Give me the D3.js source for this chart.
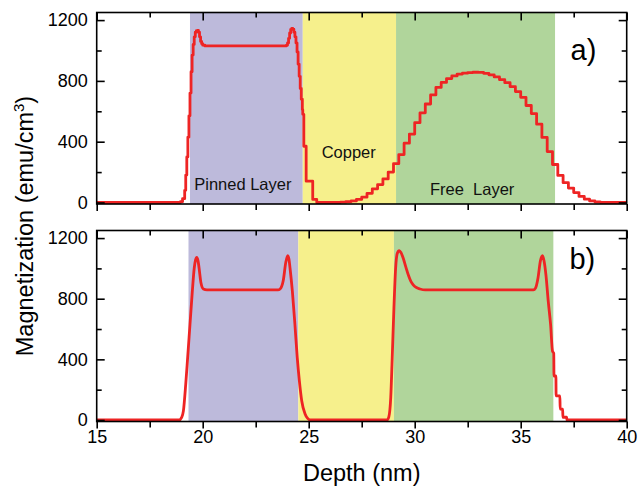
<!DOCTYPE html>
<html><head><meta charset="utf-8">
<script src="https://cdn.jsdelivr.net/npm/d3@7"></script>
<style>
body{margin:0;background:#fff}
text{font-family:"Liberation Sans",Arial,Helvetica,sans-serif}
</style>
</head><body>
<svg id="c" width="639" height="489"></svg>
<script>
// ---- data ----
const depthTicks = [15, 20, 25, 30, 35, 40];
const depthMinor = [17.5, 22.5, 27.5, 32.5, 37.5];
const magTicks = [0, 400, 800, 1200];
const magMinor = [200, 600, 1000];

const layerNames = ["Pinned Layer", "Copper", "Free\u00A0 Layer"];
const layersA = [[19.40, 24.72], [24.72, 29.12], [29.12, 36.62]];
const layersB = [[19.33, 24.51], [24.51, 29.02], [29.02, 36.54]];

// panel a (stepped profile)
const depthA = [15, 18.85, 18.95, 19.05, 19.15, 19.2, 19.25, 19.3, 19.35, 19.4, 19.45, 19.5, 19.55, 19.6, 19.65, 19.7, 19.75, 19.8, 19.85, 19.9, 19.95, 20.0, 20.1,
  23.9, 23.95, 24.0, 24.05, 24.1, 24.15, 24.2, 24.25, 24.3, 24.35, 24.4, 24.45, 24.5, 24.55, 24.6, 24.65, 24.7, 24.72, 24.77, 24.88, 25.19, 25.38,
  26.25, 26.5, 26.75, 27.0, 27.25, 27.5, 27.75, 28.0, 28.25, 28.5, 28.75, 29.0, 29.25, 29.5, 29.75, 30.0, 30.25, 30.5, 30.75, 31.0, 31.25, 31.5, 31.75,
  32.0, 32.25, 32.5, 32.75, 33.0, 33.25, 33.5, 33.75, 34.0, 34.25, 34.5, 34.75, 35.0, 35.25, 35.5, 35.75, 36.0, 36.25, 36.5, 36.75, 37.0, 37.25, 37.5,
  37.75, 38.0, 38.25, 38.5, 38.75, 40];
const magA = [0, 0, 5, 25, 80, 180, 300, 430, 570, 720, 860, 970, 1040, 1090, 1120, 1130, 1132, 1120, 1090, 1060, 1045, 1035, 1030,
  1030, 1035, 1050, 1080, 1115, 1138, 1145, 1140, 1120, 1090, 1050, 990, 910, 830, 750, 680, 610, 580, 370, 140, 20, 0,
  0, 2, 5, 10, 20, 35, 60, 90, 118, 155, 200, 255, 315, 390, 450, 525, 590, 648, 708, 757, 790, 815, 833,
  845, 851, 855, 857, 856, 850, 840, 826, 808, 788, 762, 730, 692, 638, 585, 515, 428, 335, 250, 178, 130, 95, 65,
  40, 22, 10, 3, 0, 0];

// panel b (smooth profile)
const depthB = [15, 18.9, 19.0, 19.09, 19.2, 19.29, 19.4, 19.51, 19.6, 19.66, 19.72, 19.78, 19.83, 19.92, 20.03, 20.2,
  23.55, 23.65, 23.8, 23.92, 24.01, 24.07, 24.12, 24.23, 24.35, 24.46, 24.56, 24.67, 24.83, 24.95, 25.06,
  28.7, 28.78, 28.87, 28.94, 29.02, 29.1, 29.18, 29.27, 29.35, 29.46, 29.58, 29.7, 29.82, 29.93, 30.1, 30.25, 30.5,
  35.6, 35.7, 35.82, 35.93, 36.03, 36.1, 36.19, 36.3, 36.41, 36.5, 36.56, 36.57, 36.66, 36.67, 36.85, 36.86, 36.98, 36.99, 37.17, 37.18, 40];
const magB = [0, 0, 15, 60, 236, 411, 630, 848, 1001, 1055, 1073, 1050, 1001, 903, 864, 858,
  858, 864, 920, 1040, 1084, 1060, 1001, 848, 630, 411, 258, 127, 40, 10, 0,
  0, 20, 148, 411, 739, 1001, 1100, 1117, 1105, 1067, 1010, 957, 915, 892, 872, 864, 858,
  858, 870, 940, 1050, 1084, 1050, 957, 782, 630, 454, 440, 290, 290, 159, 159, 72, 72, 18, 18, 0, 0];

// ---- styles / layout ----
const layerColors = ["#bdbadb", "#f6f08c", "#b0d59b"];
const lineColor = "#ee2424";
const svg = d3.select("#c");
const x = d3.scaleLinear().domain([15, 40]).range([96.7, 626.7]);

const panels = [
  {top: 12.5, bottom: 204, layers: layersA, depth: depthA, mag: magA, curve: d3.curveStepAfter, tag: "a)", tagAt: [37.35, 937], labels: true, tickLabelsX: false},
  {top: 230.5, bottom: 421.5, layers: layersB, depth: depthB, mag: magB, curve: d3.curveMonotoneX, tag: "b)", tagAt: [37.3, 995], labels: false, tickLabelsX: true}
];
const labelAt = [[19.6, 82], [25.61, 291], [30.72, 49]];

panels.forEach(p => {
  const y = d3.scaleLinear().domain([-10, 1250]).range([p.bottom, p.top]);
  const g = svg.append("g");
  g.selectAll("rect.band").data(p.layers).join("rect")
    .attr("x", d => x(d[0])).attr("width", d => x(d[1]) - x(d[0]))
    .attr("y", p.top).attr("height", p.bottom - p.top)
    .attr("fill", (d, i) => layerColors[i]);

  const pts = p.depth.map((d, i) => [d, p.mag[i]]);
  g.append("path").datum(pts)
    .attr("fill", "none").attr("stroke", lineColor).attr("stroke-width", 2.8)
    .attr("stroke-linejoin", "round")
    .attr("d", d3.line().x(d => x(d[0])).y(d => y(d[1])).curve(p.curve));

  const styleAxis = sel => {
    sel.select(".domain").remove();
    sel.selectAll("line").attr("stroke", "#000").attr("stroke-width", 1.6);
    sel.selectAll("text").attr("fill", "#000").style("font-size", "18px")
      .style("font-family", '"Liberation Sans",Arial,sans-serif');
  };
  const fmt = d3.format("d");
  g.append("g").attr("transform", `translate(${x.range()[0]},0)`)
    .call(d3.axisLeft(y).tickValues(magTicks).tickSize(-8).tickPadding(9).tickFormat(fmt)).call(styleAxis);
  g.append("g").attr("transform", `translate(${x.range()[0]},0)`)
    .call(d3.axisLeft(y).tickValues(magMinor).tickSize(-5).tickFormat("")).call(styleAxis);
  g.append("g").attr("transform", `translate(${x.range()[1]},0)`)
    .call(d3.axisRight(y).tickValues(magTicks).tickSize(-8).tickFormat("")).call(styleAxis);
  g.append("g").attr("transform", `translate(${x.range()[1]},0)`)
    .call(d3.axisRight(y).tickValues(magMinor).tickSize(-5).tickFormat("")).call(styleAxis);
  g.append("g").attr("transform", `translate(0,${p.top})`)
    .call(d3.axisTop(x).tickValues(depthTicks).tickSize(-8).tickFormat("")).call(styleAxis);
  g.append("g").attr("transform", `translate(0,${p.top})`)
    .call(d3.axisTop(x).tickValues(depthMinor).tickSize(-5).tickFormat("")).call(styleAxis);
  const bx = d3.axisBottom(x).tickValues(depthTicks).tickSize(7).tickPadding(2).tickFormat(p.tickLabelsX ? fmt : "");
  g.append("g").attr("transform", `translate(0,${p.bottom})`).call(bx).call(styleAxis);
  g.append("g").attr("transform", `translate(0,${p.bottom})`)
    .call(d3.axisBottom(x).tickValues(depthMinor).tickSize(6).tickFormat("")).call(styleAxis);

  g.append("rect").attr("x", x.range()[0]).attr("y", p.top)
    .attr("width", x.range()[1] - x.range()[0]).attr("height", p.bottom - p.top)
    .attr("fill", "none").attr("stroke", "#000").attr("stroke-width", 1.6);

  g.append("text").attr("x", x(p.tagAt[0])).attr("y", y(p.tagAt[1]))
    .style("font-size", "29px").attr("fill", "#000").text(p.tag);

  if (p.labels) {
    g.selectAll("text.lay").data(layerNames).join("text")
      .attr("x", (d, i) => x(labelAt[i][0])).attr("y", (d, i) => y(labelAt[i][1]))
      .style("font-size", "16.5px").attr("fill", "#111").text(d => d);
  }
});

svg.append("text").attr("x", (x.range()[0] + x.range()[1]) / 2).attr("y", 481)
  .attr("text-anchor", "middle").style("font-size", "23.5px").text("Depth (nm)");
const yt = svg.append("text").attr("transform", "translate(33,226) rotate(-90)")
  .attr("text-anchor", "middle").style("font-size", "23.5px");
yt.append("tspan").text("Magnetization (emu/cm");
yt.append("tspan").attr("dy", -9).style("font-size", "15px").text("3");
yt.append("tspan").attr("dy", 9).text(")");
</script>
</body></html>
